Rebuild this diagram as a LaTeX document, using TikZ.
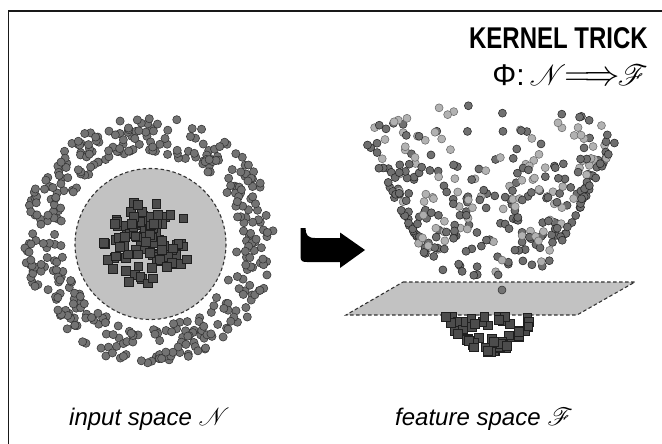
\RequirePackage{fix-cm}
\documentclass[tikz,border=0pt]{standalone}
\usepackage{fontspec}
\setmainfont{Liberation Sans}
\newfontfamily\condfont[FakeStretch=0.8]{Liberation Sans}
\usepackage{mathrsfs}
\usepackage{graphicx}
\begin{document}
\begin{tikzpicture}[x=1pt,y=-1pt,
  ringdot/.style={fill=black!55,draw=black!80,line width=0.55},
  sqbox/.style={fill=black!70,draw=black!88,line width=0.5},
  region/.style={fill=black!24,draw=black!80,line width=1.1,dash pattern=on 3.5pt off 2.5pt},
  frameline/.style={line width=1.3,draw=black!90}]
\useasboundingbox (0,0) rectangle (662,444);
% frame
\draw[frameline] (8.6,444) -- (8.6,11) -- (662,11);
% title
\node[anchor=base east,inner sep=0] (title) at (648,49) {\condfont\fontsize{30}{30}\selectfont\bfseries KERNEL TRICK};
\node[anchor=base east,inner sep=0] (phi) at (648,86) {\fontsize{30}{30}\selectfont Φ:\hspace{5pt}\scalebox{1.18}{$\mathscr{N}\!\!\Longrightarrow\!\!\mathscr{F}$}};
% ---------- input space ----------
\pgfmathsetseed{4217}
\foreach \i in {1,...,400}{
  \pgfmathsetmacro\ang{rnd*360}
  \pgfmathsetmacro\rad{87+rnd*38}
  \draw[ringdot] ({149+\rad*cos(\ang)},{240+\rad*sin(\ang)}) circle (4.1);
}
\draw[region] (150.5,244) circle (75.5);
\pgfmathsetseed{77}
\foreach \i in {1,...,100}{
  \pgfmathsetmacro\ang{rnd*360}
  \pgfmathsetmacro\rr{44*(rnd^0.75)}
  \draw[sqbox] ({147+\rr*cos(\ang)-4.4},{243+\rr*sin(\ang)-4.4}) rectangle ++(8.8,8.8);
}
% ---------- arrow ----------
\fill[black] (300.5,228) -- (300.5,256) .. controls (300.5,261) and (302,262) .. (307,262)
  -- (340,262) -- (340,268) -- (365,250) -- (340,232.5) -- (340,238) -- (315,238)
  .. controls (308,238) and (305.5,235) .. (305.5,228) -- cycle;
% ---------- feature space ----------
\fill[black!24] (403,282) -- (635,282) -- (577,315) -- (346,315) -- cycle;
\draw[black!80,line width=1.1,dash pattern=on 3.5pt off 2.5pt] (403,282) -- (635,282) -- (577,315) -- (346,315) -- cycle;
\pgfmathsetseed{913}
\foreach \i in {1,...,330}{
  \pgfmathsetmacro\ang{rnd*360}
  \pgfmathsetmacro\t{rnd}
  \pgfmathsetmacro\s{sin(\ang)}
  \pgfmathsetmacro\sh{(\s<-0.2) ? ((rnd<0.55) ? 30 : 56) : ((rnd<0.12) ? 32 : 57)}
  \pgfmathsetmacro\bd{\sh+28}
  \draw[fill=black!\sh,draw=black!\bd,line width=0.55] ({490+(63+64*\t)*cos(\ang)},{258-122*\t+(18+14*\t)*\s}) circle (4);
}
\draw[ringdot] (502,290) circle (4);
\foreach \i in {1,...,58}{
  \pgfmathsetmacro\ang{rnd*360}
  \pgfmathsetmacro\r{0.37*sqrt(rnd)}
  \pgfmathsetmacro\yy{max(317,352-270*\r*\r+10*\r*sin(\ang))}
  \draw[sqbox] ({490+125*\r*cos(\ang)-4.4},{\yy-4.4}) rectangle ++(8.8,8.8);
}
% ---------- labels ----------
\node[anchor=base west,inner sep=0] (inlab) at (69,425) {\fontsize{24}{24}\selectfont\itshape input space $\mathscr{N}$};
\node[anchor=base west,inner sep=0] (felab) at (395,425) {\fontsize{24}{24}\selectfont\itshape feature space $\mathscr{F}$};
\end{tikzpicture}
\end{document}
